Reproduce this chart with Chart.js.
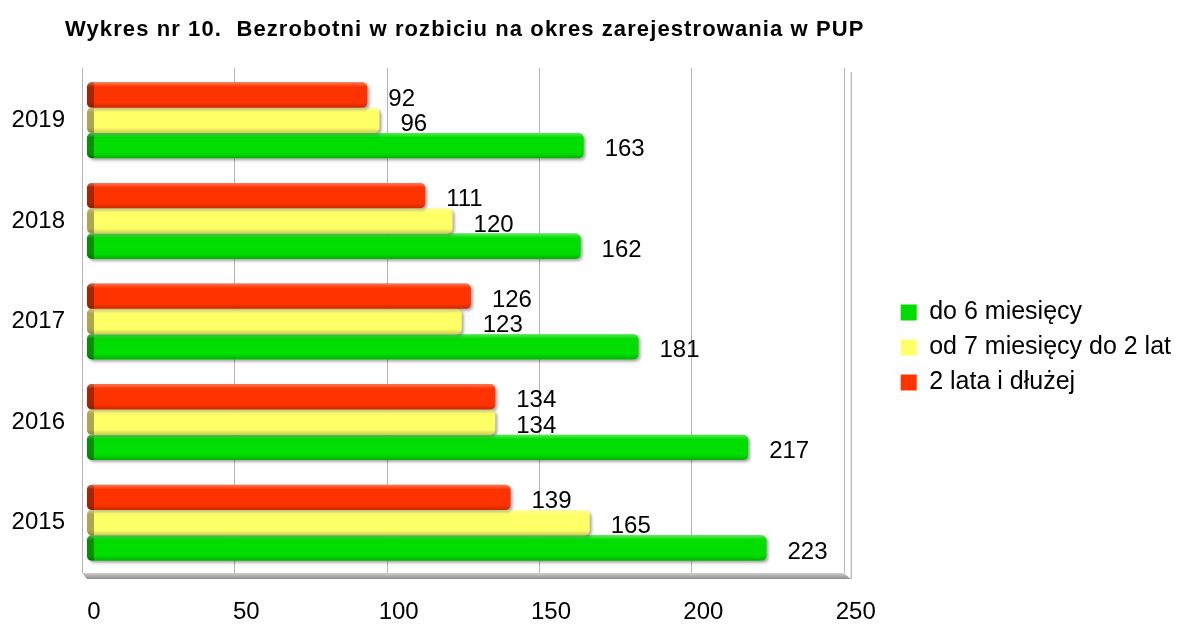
<!doctype html>
<html lang="pl">
<head>
<meta charset="utf-8">
<title>Wykres nr 10. Bezrobotni w rozbiciu na okres zarejestrowania w PUP</title>
<script src="https://cdn.jsdelivr.net/npm/chart.js@4.4.0/dist/chart.umd.min.js"></script>
<style>
  html, body { margin: 0; padding: 0; background: #fff; }
  #chart { display: block; }
</style>
</head>
<body>
<canvas id="chart" width="1181" height="625"></canvas>
<script>
// data (top group first, as in the picture)
const years = ['2019', '2018', '2017', '2016', '2015'];
const seriesNames = ['2 lata i dłużej', 'od 7 miesięcy do 2 lat', 'do 6 miesięcy'];
const longTerm = [92, 111, 126, 134, 139];
const midTerm = [96, 120, 123, 134, 165];
const shortTerm = [163, 162, 181, 217, 223];
const xTicks = [0, 50, 100, 150, 200, 250];
const titleText = 'Wykres nr 10.  Bezrobotni w rozbiciu na okres zarejestrowania w PUP';

const fillColors = ['#ff3300', '#ffff66', '#00dd00'];
const capColors = ['#a82400', '#aea64c', '#009000'];
const FONT = '"Liberation Sans", Arial, sans-serif';

// back wall grid + floor, drawn behind the bars
const wallPlugin = {
    id: 'wall',
    beforeDatasetsDraw(chart) {
        const {ctx, chartArea: a, scales: {x}} = chart;
        ctx.save();
        ctx.strokeStyle = '#b4b4b4';
        ctx.lineWidth = 1;
        xTicks.forEach(v => {
            const px = Math.round(x.getPixelForValue(v) - 5) + 0.5;
            ctx.beginPath();
            ctx.moveTo(px, a.top - 2);
            ctx.lineTo(px, a.bottom);
            ctx.stroke();
        });
        // floor slab
        const l = x.getPixelForValue(0) - 5, r = x.getPixelForValue(250) - 5;
        const g = ctx.createLinearGradient(0, a.bottom, 0, a.bottom + 6);
        g.addColorStop(0, '#d0d0d0');
        g.addColorStop(1, '#8a8a8a');
        ctx.fillStyle = g;
        ctx.beginPath();
        ctx.moveTo(l, a.bottom);
        ctx.lineTo(r, a.bottom);
        ctx.lineTo(r + 7, a.bottom + 6);
        ctx.lineTo(l + 5, a.bottom + 6);
        ctx.closePath();
        ctx.fill();
        // right wall edge
        ctx.strokeStyle = '#a0a0a0';
        ctx.beginPath();
        ctx.moveTo(r + 7.5, a.top + 2);
        ctx.lineTo(r + 7.5, a.bottom + 6);
        ctx.stroke();
        ctx.restore();

        // soft shadow under the bars
        ctx.save();
        ctx.shadowColor = 'rgba(0,0,0,0.35)';
        ctx.shadowBlur = 3;
        ctx.shadowOffsetX = 2;
        ctx.shadowOffsetY = 2;
    },
    afterDatasetsDraw(chart) {
        const ctx = chart.ctx;
        ctx.restore();

        chart.data.datasets.forEach((ds, i) => {
            const meta = chart.getDatasetMeta(i);
            meta.data.forEach((bar, j) => {
                const top = bar.y - bar.height / 2;
                const w = bar.x - bar.base;
                ctx.save();
                ctx.beginPath();
                ctx.roundRect(bar.base, top, w, bar.height, 5);
                ctx.clip();
                // darker left end
                ctx.fillStyle = capColors[i];
                ctx.fillRect(bar.base, top, 7, bar.height);
                // light top / dark bottom shading
                const g = ctx.createLinearGradient(0, top, 0, top + bar.height);
                g.addColorStop(0, 'rgba(255,255,255,0.35)');
                g.addColorStop(0.18, 'rgba(255,255,255,0)');
                g.addColorStop(0.8, 'rgba(0,0,0,0)');
                g.addColorStop(1, 'rgba(0,0,0,0.2)');
                ctx.fillStyle = g;
                ctx.fillRect(bar.base, top, w, bar.height);
                ctx.restore();

                // value label
                ctx.save();
                ctx.font = '24px ' + FONT;
                ctx.fillStyle = '#000';
                ctx.textAlign = 'left';
                ctx.textBaseline = 'middle';
                ctx.fillText(String(ds.data[j]), bar.x + 21, bar.y + 4);
                ctx.restore();
            });
        });
    }
};

const titlePlugin = {
    id: 'plainTitle',
    afterDraw(chart) {
        const ctx = chart.ctx;
        ctx.save();
        ctx.font = 'bold 22px ' + FONT;
        ctx.letterSpacing = '1.1px';
        ctx.fillStyle = '#000';
        ctx.textBaseline = 'alphabetic';
        ctx.fillText(titleText, 65, 36);
        ctx.restore();
    }
};

new Chart(document.getElementById('chart'), {
    type: 'bar',
    data: {
        labels: years,
        datasets: [
            { label: seriesNames[0], data: longTerm, backgroundColor: fillColors[0] },
            { label: seriesNames[1], data: midTerm, backgroundColor: fillColors[1] },
            { label: seriesNames[2], data: shortTerm, backgroundColor: fillColors[2] }
        ]
    },
    options: {
        indexAxis: 'y',
        responsive: false,
        animation: false,
        devicePixelRatio: 1,
        layout: { padding: { top: 70, left: 0, right: 0, bottom: 0 } },
        datasets: {
            bar: {
                categoryPercentage: 0.755,
                barPercentage: 1,
                borderWidth: 0,
                borderRadius: 5,
                borderSkipped: false
            }
        },
        scales: {
            x: {
                type: 'linear',
                min: 0,
                max: 250,
                grid: { display: false, drawTicks: false },
                border: { display: false },
                afterBuildTicks: s => { s.ticks = xTicks.map(v => ({ value: v })); },
                afterFit: s => { s.height = 52; },
                ticks: {
                    color: '#000',
                    font: { family: FONT, size: 24 },
                    padding: 25,
                    labelOffset: 7,
                    maxRotation: 0
                }
            },
            y: {
                type: 'category',
                grid: { display: false, drawTicks: false },
                border: { display: false },
                afterFit: s => { s.width = 87; },
                ticks: {
                    color: '#000',
                    font: { family: FONT, size: 24 },
                    padding: 22
                }
            },
            gap: {
                type: 'linear',
                position: 'right',
                display: true,
                grid: { display: false, drawTicks: false },
                border: { display: false },
                ticks: { display: false },
                afterFit: s => { s.width = 42; }
            }
        },
        plugins: {
            legend: {
                position: 'right',
                align: 'center',
                reverse: true,
                maxWidth: 340,
                labels: {
                    color: '#000',
                    boxWidth: 16,
                    boxHeight: 16,
                    padding: 10,
                    font: { family: FONT, size: 25 }
                }
            },
            title: { display: false },
            tooltip: { enabled: false }
        }
    },
    plugins: [wallPlugin, titlePlugin]
});
</script>
</body>
</html>
